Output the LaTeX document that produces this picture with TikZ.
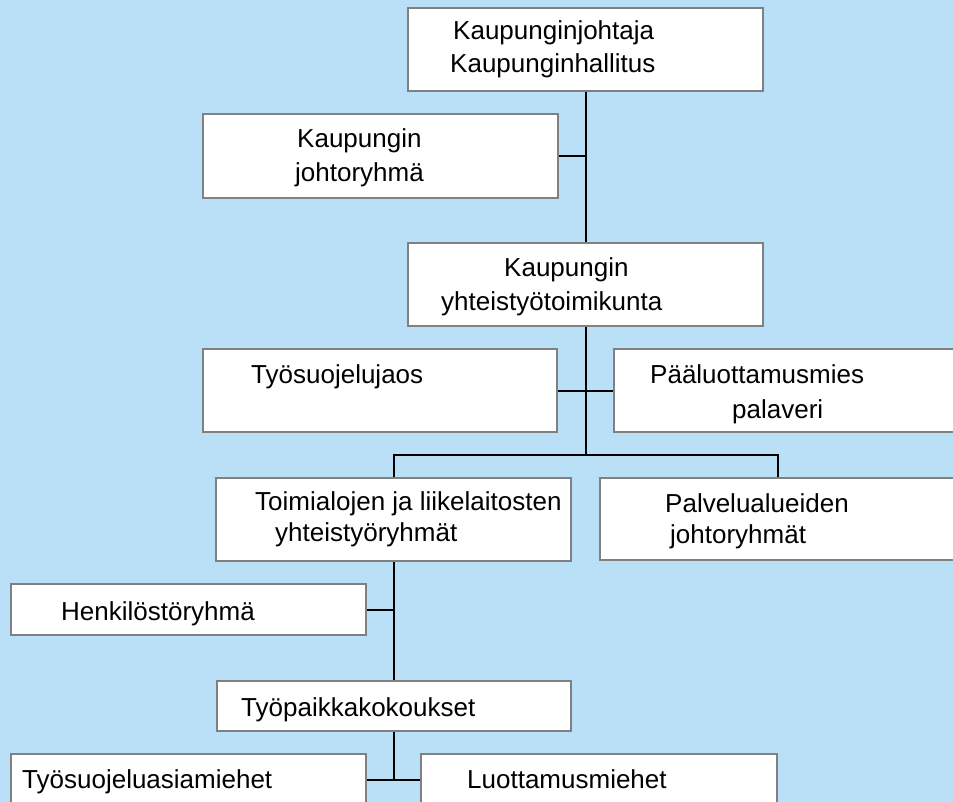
\documentclass[tikz,border=0pt]{standalone}
\usepackage{fontspec}
\setmainfont{Liberation Sans}
\definecolor{bgblue}{RGB}{185,224,247}
\definecolor{boxgray}{RGB}{128,128,128}
\tikzset{
  orgbox/.style={draw=boxgray, fill=white, line width=1.6pt, inner sep=0pt},
  link/.style={draw=black, line width=2pt},
  txt/.style={anchor=base west, inner sep=0pt, font=\fontsize{26}{33}\selectfont}
}
\begin{document}
\begin{tikzpicture}[x=1pt, y=-1pt]
  \fill[bgblue] (0,0) rectangle (953,802);
  \useasboundingbox (0,0) rectangle (953,802);
  \clip (0,0) rectangle (953,802);
  % boxes
  \node [orgbox, minimum width=355, minimum height=83] (top) at (585.5,49.5) {};
  \node [orgbox, minimum width=355, minimum height=84] (johto) at (380.5,156) {};
  \node [orgbox, minimum width=355, minimum height=83] (yt) at (585.5,284.5) {};
  \node [orgbox, minimum width=354, minimum height=83] (tsj) at (380,390.5) {};
  \node [orgbox, minimum width=355, minimum height=83] (plm) at (791.5,390.5) {};
  \node [orgbox, minimum width=355, minimum height=83] (toim) at (393.5,519.5) {};
  \node [orgbox, minimum width=355, minimum height=82] (palv) at (777.5,519) {};
  \node [orgbox, minimum width=355, minimum height=51] (henk) at (188.5,609.5) {};
  \node [orgbox, minimum width=354, minimum height=50] (typ) at (394,706) {};
  \node [orgbox, minimum width=355, minimum height=51] (tsa) at (188.5,779.5) {};
  \node [orgbox, minimum width=356, minimum height=51] (luot) at (599,779.5) {};
  \coordinate (bar) at (585.5,455);
  % connectors
  \draw [link] (top.south) -- (yt.north);
  \draw [link] (johto.east) -- (johto.east -| top.south);
  \draw [link] (yt.south) -- (bar);
  \draw [link] (tsj.east) -- (plm.west);
  \draw [link] (toim.north) |- (bar) -| (palv.north);
  \draw [link] (toim.south) -- (toim.south |- typ.north);
  \draw [link] (henk.east) -- (henk.east -| toim.south);
  \draw [link] (typ.south) -- (typ.south |- tsa.east);
  \draw [link] (tsa.east) -- (luot.west);
  % texts
  \node [txt] (topa) at (453,40) {Kaupunginjohtaja};
  \node [txt] (topb) at (450,73) {Kaupunginhallitus};
  \node [txt] (johtoa) at (297,148) {Kaupungin};
  \node [txt] (johtob) at (295,182) {johtoryhmä};
  \node [txt] (yta) at (504,277) {Kaupungin};
  \node [txt] (ytb) at (441,310) {yhteistyötoimikunta};
  \node [txt] (tsjt) at (251,383) {Työsuojelujaos};
  \node [txt] (plma) at (650,383) {Pääluottamusmies};
  \node [txt] (plmb) at (732,418) {palaveri};
  \node [txt] (toima) at (255,510) {Toimialojen ja liikelaitosten};
  \node [txt] (toimb) at (275,541) {yhteistyöryhmät};
  \node [txt] (palva) at (665,512) {Palvelualueiden};
  \node [txt] (palvb) at (670,543) {johtoryhmät};
  \node [txt] (henkt) at (61,620) {Henkilöstöryhmä};
  \node [txt] (typt) at (241,716) {Työpaikkakokoukset};
  \node [txt] (tsat) at (22,788) {Työsuojeluasiamiehet};
  \node [txt] (luott) at (467,788) {Luottamusmiehet};
\end{tikzpicture}
\end{document}
